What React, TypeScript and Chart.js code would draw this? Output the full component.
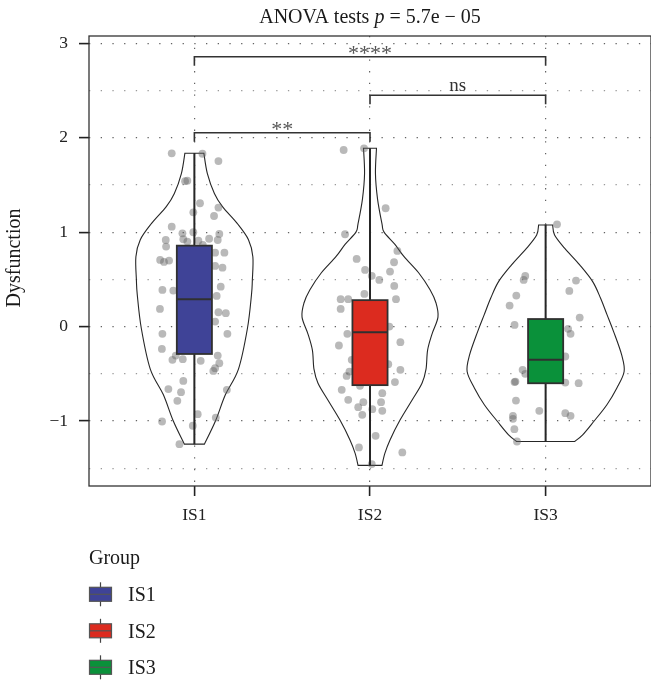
import React, { useEffect, useRef } from 'react';
import { Chart, registerables } from 'chart.js';

Chart.register(...registerables);

const categories = ['IS1', 'IS2', 'IS3'];
const fillColors = ['#3F4397', '#DC2B1F', '#0A913A'];
const yTickValues = [-1.5, -1, -0.5, 0, 0.5, 1, 1.5, 2, 2.5, 3];
const titleParts = ['ANOVA tests ', 'p', ' = 5.7e − 05'];
const yAxisTitle = 'Dysfunction';
const legendTitle = 'Group';

// [lower whisker, Q1, median, Q3, upper whisker]
const is1Box = [-1.245, -0.29, 0.29, 0.857, 1.835];
const is2Box = [-1.47, -0.62, -0.06, 0.28, 1.888];
const is3Box = [-1.22, -0.6, -0.35, 0.08, 1.08];

// violin outline: y values and half widths (x-axis units)
const is1ViolinY = [1.836, 1.62, 1.41, 1.27, 1.09, 0.92, 0.74, 0.49, 0.335, -0.02, -0.45, -0.72, -1.0, -1.245];
const is1ViolinHalf = [0.054, 0.074, 0.114, 0.16, 0.245, 0.308, 0.333, 0.33, 0.325, 0.302, 0.251, 0.177, 0.12, 0.057];
const is2ViolinY = [1.888, 1.62, 1.35, 1.09, 1.0, 0.87, 0.74, 0.565, 0.39, 0.25, 0.1, -0.08, -0.25, -0.45, -0.6, -0.78, -0.99, -1.2, -1.34, -1.47];
const is2ViolinHalf = [0.037, 0.031, 0.043, 0.068, 0.08, 0.142, 0.194, 0.279, 0.342, 0.376, 0.387, 0.353, 0.328, 0.319, 0.296, 0.239, 0.171, 0.114, 0.085, 0.068];
const is3ViolinY = [1.076, 0.97, 0.83, 0.653, 0.476, 0.3, 0.124, -0.053, -0.3, -0.476, -0.652, -0.83, -1.005, -1.146, -1.217];
const is3ViolinHalf = [0.04, 0.051, 0.108, 0.194, 0.268, 0.313, 0.35, 0.387, 0.433, 0.447, 0.405, 0.348, 0.274, 0.211, 0.165];

// jittered observations: horizontal jitter offsets and values
const is1JitterX = [-0.129, 0.046, 0.137, -0.053, -0.04, 0.032, 0.137, -0.006, 0.112, -0.129, -0.068, -0.006, 0.142, -0.163, -0.063, -0.04, 0.023, 0.084, 0.133, -0.161, 0.048, 0.118, 0.171, -0.195, -0.173, -0.144, 0.118, 0.16, 0.15, -0.182, -0.12, 0.127, -0.196, 0.137, 0.179, 0.118, -0.182, 0.188, -0.185, 0.133, -0.106, -0.125, -0.066, 0.036, 0.142, 0.118, 0.108, -0.063, -0.148, -0.076, 0.185, -0.097, 0.019, 0.122, -0.184, -0.009, -0.085];
const is1Values = [1.835, 1.83, 1.753, 1.54, 1.545, 1.306, 1.26, 1.21, 1.171, 1.058, 0.988, 0.999, 0.981, 0.917, 0.925, 0.9, 0.91, 0.93, 0.917, 0.847, 0.864, 0.783, 0.783, 0.706, 0.685, 0.699, 0.642, 0.624, 0.423, 0.388, 0.381, 0.325, 0.187, 0.152, 0.142, 0.053, -0.077, -0.077, -0.236, -0.307, -0.307, -0.352, -0.345, -0.363, -0.388, -0.44, -0.469, -0.575, -0.662, -0.694, -0.67, -0.786, -0.927, -0.963, -1.005, -1.05, -1.245];
const is2JitterX = [-0.15, -0.034, 0.089, -0.142, 0.156, -0.076, 0.137, -0.028, 0.114, 0.01, 0.053, 0.138, -0.032, -0.167, -0.124, 0.148, -0.167, 0.11, -0.129, -0.177, 0.173, -0.104, 0.104, -0.117, -0.133, 0.173, 0.142, -0.057, -0.161, 0.07, -0.124, -0.038, 0.063, -0.067, 0.013, 0.07, -0.044, 0.032, -0.063, 0.184, 0.01];
const is2Values = [1.87, 1.888, 1.253, 0.978, 0.801, 0.716, 0.681, 0.6, 0.582, 0.537, 0.494, 0.431, 0.346, 0.29, 0.29, 0.29, 0.187, 0.0, -0.077, -0.2, -0.165, -0.352, -0.398, -0.476, -0.522, -0.458, -0.588, -0.627, -0.67, -0.705, -0.776, -0.8, -0.8, -0.853, -0.874, -0.892, -0.934, -1.157, -1.28, -1.333, -1.456];
const is3JitterX = [0.065, -0.116, -0.125, 0.173, 0.135, -0.167, -0.205, 0.194, -0.177, 0.128, 0.142, 0.112, -0.131, -0.116, -0.177, -0.172, 0.112, 0.188, -0.169, -0.036, 0.112, 0.142, -0.186, -0.186, -0.178, -0.163];
const is3Values = [1.083, 0.536, 0.494, 0.487, 0.378, 0.328, 0.222, 0.095, 0.018, -0.024, -0.077, -0.317, -0.458, -0.5, -0.588, -0.582, -0.593, -0.599, -0.783, -0.892, -0.917, -0.945, -0.945, -0.977, -1.086, -1.217];

const bracketFrom = [1, 2, 1];
const bracketTo = [2, 3, 3];
const bracketY = [2.053, 2.45, 2.857];
const bracketTip = [0.095, 0.095, 0.095];
const bracketLabels = ['**', 'ns', '****'];

const boxes = [is1Box, is2Box, is3Box];
const violinYs = [is1ViolinY, is2ViolinY, is3ViolinY];
const violinHalves = [is1ViolinHalf, is2ViolinHalf, is3ViolinHalf];
const jitters = [is1JitterX, is2JitterX, is3JitterX];
const values = [is1Values, is2Values, is3Values];

const SERIF = '"Liberation Serif", "DejaVu Serif", serif';
const INK = '#262626';
const BOX_HALF = 0.1;
const CANVAS_W = 655;

type P = { x: number; y: number };

function catmull(ctx: CanvasRenderingContext2D, pts: P[], start: boolean) {
  if (start) ctx.moveTo(pts[0].x, pts[0].y);
  else ctx.lineTo(pts[0].x, pts[0].y);
  for (let i = 0; i < pts.length - 1; i++) {
    const p0 = pts[i - 1] || pts[i];
    const p1 = pts[i];
    const p2 = pts[i + 1];
    const p3 = pts[i + 2] || p2;
    ctx.bezierCurveTo(
      p1.x + (p2.x - p0.x) / 6, p1.y + (p2.y - p0.y) / 6,
      p2.x - (p3.x - p1.x) / 6, p2.y - (p3.y - p1.y) / 6,
      p2.x, p2.y
    );
  }
}

const decorPlugin = {
  id: 'decor',
  beforeDatasetsDraw(chart: any) {
    const { ctx, scales } = chart;
    const xs = scales.x, ys = scales.y;
    ctx.save();
    ctx.strokeStyle = INK;
    ctx.lineWidth = 1.1;
    for (let g = 0; g < categories.length; g++) {
      const c = g + 1;
      const yv = violinYs[g], hw = violinHalves[g];
      const left: P[] = yv.map((v, i) => ({ x: xs.getPixelForValue(c - hw[i]), y: ys.getPixelForValue(v) }));
      const right: P[] = yv.map((v, i) => ({ x: xs.getPixelForValue(c + hw[i]), y: ys.getPixelForValue(v) })).reverse();
      ctx.beginPath();
      catmull(ctx, left, true);
      catmull(ctx, right, false);
      ctx.closePath();
      ctx.stroke();
    }
    ctx.restore();
  },
  afterDatasetsDraw(chart: any) {
    const { ctx, scales, chartArea } = chart;
    const xs = scales.x, ys = scales.y;
    ctx.save();
    // boxes
    for (let g = 0; g < categories.length; g++) {
      const c = g + 1;
      const [lo, q1, med, q3, hi] = boxes[g];
      const cx = xs.getPixelForValue(c);
      const x0 = xs.getPixelForValue(c - BOX_HALF);
      const x1 = xs.getPixelForValue(c + BOX_HALF);
      ctx.strokeStyle = INK;
      ctx.lineWidth = 2;
      ctx.beginPath();
      ctx.moveTo(cx, ys.getPixelForValue(hi));
      ctx.lineTo(cx, ys.getPixelForValue(q3));
      ctx.moveTo(cx, ys.getPixelForValue(q1));
      ctx.lineTo(cx, ys.getPixelForValue(lo));
      ctx.stroke();
      const yTop = ys.getPixelForValue(q3), yBot = ys.getPixelForValue(q1);
      ctx.fillStyle = fillColors[g];
      ctx.fillRect(x0, yTop, x1 - x0, yBot - yTop);
      ctx.lineWidth = 1.8;
      ctx.strokeStyle = '#303030';
      ctx.strokeRect(x0, yTop, x1 - x0, yBot - yTop);
      ctx.lineWidth = 2;
      ctx.beginPath();
      const ym = ys.getPixelForValue(med);
      ctx.moveTo(x0, ym);
      ctx.lineTo(x1, ym);
      ctx.stroke();
    }
    // brackets
    for (let b = 0; b < bracketLabels.length; b++) {
      const xa = xs.getPixelForValue(bracketFrom[b]);
      const xb = xs.getPixelForValue(bracketTo[b]);
      const yl = ys.getPixelForValue(bracketY[b]);
      const yt = ys.getPixelForValue(bracketY[b] - bracketTip[b]);
      ctx.strokeStyle = '#333';
      ctx.lineWidth = 1.6;
      ctx.beginPath();
      ctx.moveTo(xa, yt);
      ctx.lineTo(xa, yl);
      ctx.lineTo(xb, yl);
      ctx.lineTo(xb, yt);
      ctx.stroke();
      const lab = bracketLabels[b];
      ctx.textAlign = 'center';
      ctx.textBaseline = 'alphabetic';
      if (lab.startsWith('*')) {
        ctx.fillStyle = '#555';
        ctx.font = `22px ${SERIF}`;
        ctx.fillText(lab, (xa + xb) / 2, yl + 3);
      } else {
        ctx.fillStyle = '#333';
        ctx.font = `19px ${SERIF}`;
        ctx.fillText(lab, (xa + xb) / 2, yl - 4);
      }
    }
    // panel border
    ctx.strokeStyle = '#333';
    ctx.lineWidth = 1.3;
    ctx.strokeRect(chartArea.left, chartArea.top, chartArea.right - chartArea.left, chartArea.bottom - chartArea.top);
    // title
    ctx.fillStyle = '#1a1a1a';
    ctx.textBaseline = 'alphabetic';
    ctx.textAlign = 'left';
    const fonts = [`20px ${SERIF}`, `italic 20px ${SERIF}`, `20px ${SERIF}`];
    let total = 0;
    const widths = titleParts.map((t, i) => { ctx.font = fonts[i]; const w = ctx.measureText(t).width; total += w; return w; });
    let tx = (chartArea.left + chartArea.right) / 2 - total / 2;
    titleParts.forEach((t, i) => { ctx.font = fonts[i]; ctx.fillText(t, tx, 23); tx += widths[i]; });
    // y axis title
    ctx.save();
    ctx.translate(20, (chartArea.top + chartArea.bottom) / 2 - 3);
    ctx.rotate(-Math.PI / 2);
    ctx.textAlign = 'center';
    ctx.font = `20px ${SERIF}`;
    ctx.fillText(yAxisTitle, 0, 0);
    ctx.restore();
    // legend
    ctx.font = `20px ${SERIF}`;
    ctx.textAlign = 'left';
    ctx.fillText(legendTitle, 89, 564);
    categories.forEach((cat, i) => {
      const cy = 594.3 + i * 36.5;
      const kx = 89.5, kw = 22, kh = 14;
      ctx.strokeStyle = '#444';
      ctx.lineWidth = 1.2;
      ctx.beginPath();
      ctx.moveTo(kx + kw / 2, cy - 12);
      ctx.lineTo(kx + kw / 2, cy + 12);
      ctx.stroke();
      ctx.fillStyle = fillColors[i];
      ctx.fillRect(kx, cy - kh / 2, kw, kh);
      ctx.strokeStyle = '#555';
      ctx.strokeRect(kx, cy - kh / 2, kw, kh);
      ctx.beginPath();
      ctx.moveTo(kx, cy);
      ctx.lineTo(kx + kw, cy);
      ctx.stroke();
      ctx.fillStyle = '#1a1a1a';
      ctx.fillText(cat, 128, cy + 7);
    });
    ctx.restore();
  },
};

export default function App() {
  const ref = useRef<HTMLCanvasElement | null>(null);
  useEffect(() => {
    const canvas = ref.current;
    if (!canvas) return;
    const datasets = categories.map((cat, g) => ({
      label: cat,
      data: values[g].map((v, j) => ({ x: g + 1 + jitters[g][j], y: v })),
      pointRadius: 3.9,
      pointBackgroundColor: 'rgba(100,100,100,0.45)',
      pointBorderWidth: 0,
      pointBorderColor: 'rgba(0,0,0,0)',
      showLine: false,
    }));
    const chart = new Chart(canvas, {
      type: 'scatter',
      data: { datasets },
      options: {
        animation: false,
        responsive: false,
        devicePixelRatio: 1,
        layout: { padding: { top: 36, right: 1, left: 0, bottom: 0 } },
        plugins: { legend: { display: false }, title: { display: false }, tooltip: { enabled: false } },
        scales: {
          x: {
            type: 'linear',
            min: 0.4,
            max: 3.6,
            afterBuildTicks: (s: any) => { s.ticks = categories.map((_, i) => ({ value: i + 1 })); },
            afterFit: (s: any) => { s.height = 194; },
            ticks: {
              callback: (v: any) => categories[Math.round(v) - 1] ?? '',
              font: { family: SERIF, size: 17.5 },
              color: '#222',
              padding: 9,
              autoSkip: false,
              maxRotation: 0,
            },
            grid: {
              color: 'rgba(70,70,70,0.85)',
              lineWidth: 1.2,
              tickLength: 10,
              tickColor: '#222',
              tickWidth: 1.6,
            },
            border: { display: false, dash: [1.3, 10.4] },
          },
          y: {
            type: 'linear',
            min: -1.688,
            max: 3.077,
            afterBuildTicks: (s: any) => { s.ticks = yTickValues.map((v) => ({ value: v })); },
            afterFit: (s: any) => { s.width = 89; },
            ticks: {
              callback: (v: any) => (Number.isInteger(v) ? (v < 0 ? '−' + Math.abs(v) : String(v)) : ''),
              font: { family: SERIF, size: 17.5 },
              color: '#222',
              padding: 11,
              autoSkip: false,
            },
            grid: {
              color: (c: any) => (Number.isInteger(c.tick?.value) ? 'rgba(70,70,70,0.85)' : 'rgba(110,110,110,0.7)'),
              lineWidth: 1.2,
              tickLength: 10,
              tickColor: (c: any) => (Number.isInteger(c.tick?.value) ? '#222' : 'rgba(0,0,0,0)'),
              tickWidth: 1.6,
            },
            border: { display: false, dash: [1.3, 10.4] },
          },
        },
      },
      plugins: [decorPlugin],
    } as any);
    return () => chart.destroy();
  }, []);
  return (
    <div style={{ position: 'absolute', left: 0, top: 0, width: 651, height: 680, overflow: 'hidden', background: '#fff' }}>
      <canvas ref={ref} width={CANVAS_W} height={680} style={{ display: 'block', width: CANVAS_W, height: 680 }} />
    </div>
  );
}
